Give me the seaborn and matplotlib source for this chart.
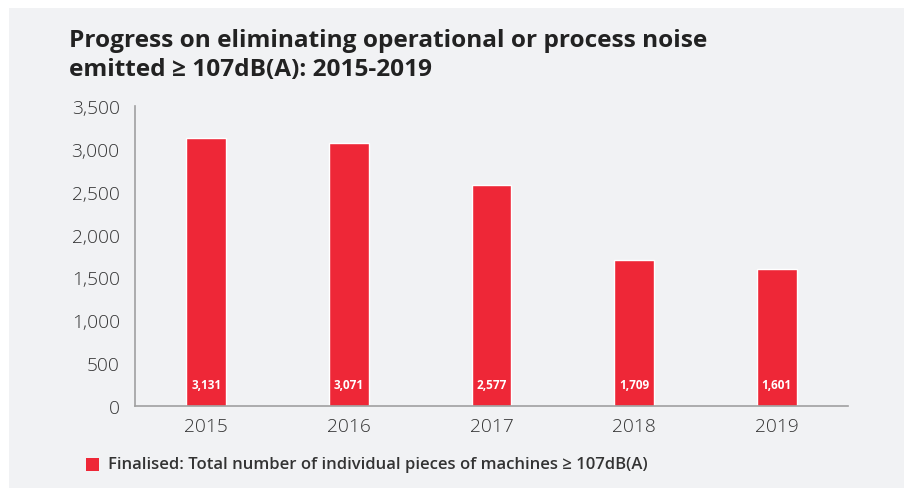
import matplotlib
matplotlib.use("Agg")
import matplotlib.pyplot as plt
import seaborn as sns
import pandas as pd
from matplotlib.patches import Rectangle

# data
years = ["2015", "2016", "2017", "2018", "2019"]
machines = [3131, 3071, 2577, 1709, 1601]
yticks = [0, 500, 1000, 1500, 2000, 2500, 3000, 3500]

title = "Progress on eliminating operational or process noise\nemitted \u2265 107dB(A): 2015-2019"
legend_label = "Finalised: Total number of individual pieces of machines \u2265 107dB(A)"

RED = "#ee2737"
BG = "#f1f2f4"
SPINE = "#a0a0a0"

sns.set_style("white")
plt.rcParams["font.family"] = ["Open Sans", "DejaVu Sans"]

df = pd.DataFrame({"year": years, "count": machines})

fig = plt.figure(figsize=(9.09, 4.89), dpi=100, facecolor="white")
W, H = 909, 489
# light grey card behind the whole chart
fig.patches.append(Rectangle((9 / W, 0), (904 - 9) / W, (489 - 9) / H,
                             transform=fig.transFigure, facecolor=BG,
                             edgecolor="none", zorder=-10))

ax = fig.add_axes([135 / W, (H - 407) / H, (848 - 135) / W, (407 - 107) / H])
ax.set_facecolor("none")

sns.barplot(data=df, x="year", y="count", color=RED, width=0.28,
            saturation=1, ax=ax)

ax.set_xlim(-0.5, 4.5)
ax.set_ylim(0, 3500)
ax.set_yticks(yticks)
ax.set_yticklabels([f"{v:,}" for v in yticks])
ax.set_xlabel("")
ax.set_ylabel("")
ax.tick_params(axis="both", length=0, labelsize=13.8, colors="#333333")
for lbl in ax.get_xticklabels() + ax.get_yticklabels():
    lbl.set_fontweight("light")
ax.tick_params(axis="y", pad=11)
ax.tick_params(axis="x", pad=8)
for s in ["top", "right"]:
    ax.spines[s].set_visible(False)
for s in ["left", "bottom"]:
    ax.spines[s].set_color(SPINE)
    ax.spines[s].set_linewidth(1.2)

# value labels inside the bars, near the base
for i, v in enumerate(machines):
    ax.text(i, 255, f"{v:,}", ha="center", va="center", color="white",
            fontsize=8.5, fontweight="bold")

fig.text(69 / W, 1 - 29 / H, title, ha="left", va="top", fontsize=17.6,
         fontweight="bold", color="#222222", linespacing=1.3)

fig.patches.append(Rectangle((86 / W, 1 - 472 / H), 13 / W, 13 / H,
                             transform=fig.transFigure, facecolor=RED,
                             edgecolor="none"))
fig.text(108 / W, 1 - 465.5 / H, legend_label, ha="left", va="center",
         fontsize=12, fontweight="semibold", color="#333333")

fig.savefig("out.png", dpi=100, facecolor="white")
